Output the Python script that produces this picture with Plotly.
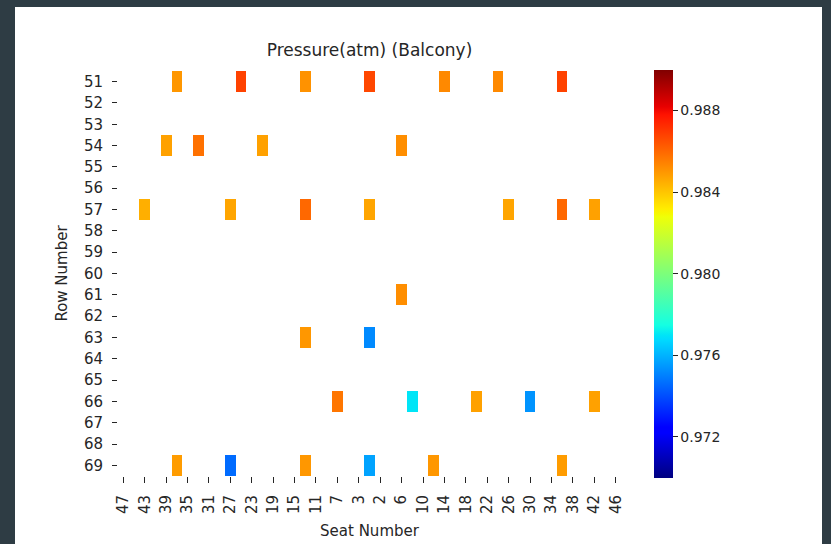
import numpy as np
import plotly.graph_objects as go

# ---- data ----
rows = list(range(51, 70))
odd_seats = list(range(47, 0, -2))
even_seats = list(range(2, 47, 2))
seats = odd_seats + even_seats
tick_seats = seats[::2]

cell_rows = [51, 51, 51, 51, 51, 51, 51,
             54, 54, 54, 54,
             57, 57, 57, 57, 57, 57, 57,
             61,
             63, 63,
             66, 66, 66, 66, 66,
             69, 69, 69, 69, 69, 69]
cell_seats = [37, 25, 13, 1, 14, 24, 36,
              39, 33, 21, 6,
              43, 27, 13, 1, 26, 36, 42,
              6,
              13, 1,
              7, 8, 20, 30, 42,
              37, 27, 13, 1, 12, 36]
cell_values = [0.9850, 0.9868, 0.9851, 0.9867, 0.9853, 0.9853, 0.9868,
               0.9848, 0.9858, 0.9848, 0.9852,
               0.9845, 0.9847, 0.9860, 0.9847, 0.9847, 0.9860, 0.9848,
               0.9852,
               0.9850, 0.9752,
               0.9857, 0.9770, 0.9848, 0.9754, 0.9848,
               0.9849, 0.9746, 0.9850, 0.9757, 0.9850, 0.9849]

zmin, zmax = 0.970, 0.990
cbar_ticks = [0.972, 0.976, 0.980, 0.984, 0.988]

# ---- build matrix ----
z = np.full((len(rows), len(seats)), np.nan)
for r, s, v in zip(cell_rows, cell_seats, cell_values):
    z[rows.index(r), seats.index(s)] = v

# matplotlib 'jet' colormap
red = [(0, 0), (0.35, 0), (0.66, 1), (0.89, 1), (1, 0.5)]
green = [(0, 0), (0.125, 0), (0.375, 1), (0.64, 1), (0.91, 0), (1, 0)]
blue = [(0, 0.5), (0.11, 1), (0.34, 1), (0.65, 0), (1, 0)]
stops = sorted({p for seg in (red, green, blue) for p, _ in seg})
def ch(seg, t):
    return np.interp(t, [p for p, _ in seg], [v for _, v in seg])
jet = [[t, "rgb(%d,%d,%d)" % (round(255 * ch(red, t)), round(255 * ch(green, t)), round(255 * ch(blue, t)))] for t in stops]

xlab = [str(s) for s in seats]
ylab = [str(r) for r in rows]

font = "DejaVu Sans"
tc = "#262626"

W, H = 831, 544
L, R, T, B = 118, 621, 71, 476.5
px = lambda x: (x - L) / (R - L)
py = lambda y: (B - y) / (B - T)

fig = go.Figure(go.Heatmap(
    z=z, x=xlab, y=ylab, colorscale=jet, zmin=zmin, zmax=zmax,
    hoverongaps=False,
    colorbar=dict(
        x=px(654), xanchor="left", y=py(274), yanchor="middle",
        len=408, lenmode="pixels", thickness=19, thicknessmode="pixels",
        xpad=0, ypad=0, outlinewidth=0,
        tickvals=cbar_ticks, tickformat=".3f", tickprefix="\u2002",
        ticks="outside", ticklen=5, tickcolor=tc,
        tickfont=dict(family=font, size=14, color=tc),
    ),
))

fig.update_layout(
    width=W, height=H,
    margin=dict(l=L, r=W - R, t=T, b=H - B, autoexpand=False),
    paper_bgcolor="#2e3c44",
    plot_bgcolor="white",
    font=dict(family=font, size=14, color=tc),
    title=dict(text="Pressure(atm) (Balcony)", x=0.5, xref="paper",
               y=1 - 50 / H, yanchor="middle",
               font=dict(family=font, size=17, color=tc)),
    shapes=[dict(type="rect", xref="paper", yref="paper",
                 x0=px(15), x1=px(822), y0=py(7), y1=py(H + 5),
                 fillcolor="white", line=dict(width=0), layer="below")],
    xaxis=dict(type="category", tickmode="array", tickvals=[str(s) for s in tick_seats],
               ticktext=[str(s) for s in tick_seats], tickangle=-90,
               ticks="outside", ticklen=6, tickcolor=tc, showgrid=False, zeroline=False,
               showline=False, ticklabelstandoff=6, automargin=False,
               tickfont=dict(family=font, size=15, color=tc),
               title=dict(text="Seat Number", standoff=12,
                          font=dict(family=font, size=15, color=tc))),
    yaxis=dict(type="category", autorange="reversed", automargin=False,
               ticks="outside", ticklen=5, tickcolor=tc, showgrid=False, zeroline=False,
               showline=False, ticklabelstandoff=6,
               tickfont=dict(family=font, size=15, color=tc),
               title=dict(text="Row Number", standoff=12,
                          font=dict(family=font, size=15, color=tc))),
)

fig.write_html("out.html", config={"displayModeBar": False},
               post_script="document.body.style.margin='0';")
